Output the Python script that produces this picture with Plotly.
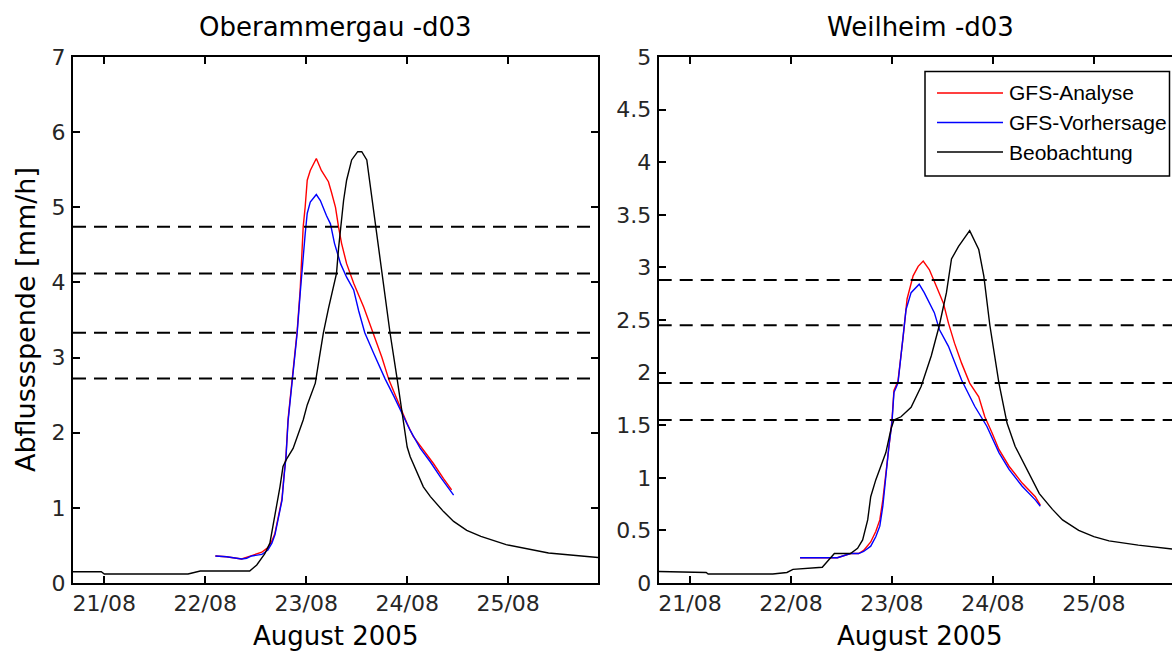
import plotly.graph_objects as go

W, H = 1172, 653

# ---- shared x axis (days of August 2005) ----
day_ticks = [21, 22, 23, 24, 25]
day_labels = ["21/08", "22/08", "23/08", "24/08", "25/08"]

# ---- Oberammergau -d03 ----
obe_obs_t = [20.69, 20.97, 21.00, 21.83, 21.95, 22.44, 22.51, 22.59, 22.64, 22.67, 22.71, 22.74,
             22.77, 22.81, 22.87, 22.92, 22.97, 23.01, 23.06, 23.09, 23.13, 23.17, 23.22, 23.28,
             23.30, 23.32, 23.34, 23.37, 23.40, 23.45, 23.51, 23.55, 23.60, 23.65, 23.70, 23.75,
             23.83, 23.90, 23.95, 23.98, 24.00, 24.03, 24.10, 24.16, 24.23, 24.36, 24.46, 24.59,
             24.73, 24.98, 25.40, 25.89]
obe_obs_q = [0.15, 0.15, 0.12, 0.12, 0.16, 0.16, 0.24, 0.39, 0.53, 0.75, 1.06, 1.28,
             1.55, 1.66, 1.79, 1.97, 2.17, 2.37, 2.57, 2.66, 3.00, 3.33, 3.65, 3.99,
             4.12, 4.45, 4.74, 5.09, 5.36, 5.63, 5.74, 5.74, 5.63, 5.14, 4.65, 4.12,
             3.33, 2.72, 2.26, 2.03, 1.81, 1.68, 1.46, 1.28, 1.15, 0.95, 0.82, 0.70,
             0.62, 0.51, 0.40, 0.34]

obe_ana_t = [22.10, 22.21, 22.36, 22.41, 22.46, 22.51, 22.56, 22.62, 22.66, 22.69, 22.72, 22.76,
             22.78, 22.80, 22.82, 22.86, 22.91, 22.94, 22.96, 22.97, 22.99, 23.01, 23.04, 23.10,
             23.15, 23.22, 23.25, 23.29, 23.32, 23.35, 23.40, 23.47, 23.57, 23.65, 23.75, 23.82,
             23.93, 24.00, 24.06, 24.16, 24.26, 24.36, 24.44]
obe_ana_q = [0.36, 0.35, 0.32, 0.34, 0.37, 0.39, 0.41, 0.47, 0.56, 0.66, 0.86, 1.12,
             1.43, 1.70, 2.18, 2.74, 3.35, 3.90, 4.40, 4.74, 5.01, 5.36, 5.49, 5.65,
             5.49, 5.34, 5.20, 5.00, 4.74, 4.52, 4.25, 3.99, 3.67, 3.38, 3.00, 2.70,
             2.34, 2.12, 1.95, 1.77, 1.59, 1.39, 1.24]

obe_fc_t = [22.10, 22.21, 22.36, 22.41, 22.46, 22.56, 22.62, 22.66, 22.69, 22.72, 22.76, 22.78,
            22.80, 22.82, 22.86, 22.91, 22.94, 22.97, 22.99, 23.01, 23.04, 23.10, 23.14, 23.20,
            23.24, 23.28, 23.34, 23.40, 23.47, 23.52, 23.58, 23.67, 23.78, 23.87, 23.96, 24.03,
            24.13, 24.23, 24.33, 24.46]
obe_fc_q = [0.36, 0.35, 0.32, 0.33, 0.36, 0.38, 0.44, 0.53, 0.64, 0.84, 1.10, 1.41,
            1.68, 2.15, 2.70, 3.32, 3.85, 4.38, 4.65, 4.92, 5.07, 5.17, 5.09, 4.89,
            4.78, 4.52, 4.25, 4.07, 3.90, 3.62, 3.33, 3.05, 2.72, 2.48, 2.23, 2.03,
            1.79, 1.61, 1.41, 1.17]

obe_thresholds = [2.72, 3.33, 4.12, 4.74]

# ---- Weilheim -d03 ----
wei_obs_t = [20.69, 21.16, 21.18, 21.82, 21.96, 22.02, 22.31, 22.43, 22.59, 22.66, 22.71, 22.76,
             22.79, 22.84, 22.89, 22.94, 22.99, 23.02, 23.09, 23.19, 23.29, 23.39, 23.47, 23.54,
             23.59, 23.66, 23.77, 23.86, 23.91, 23.94, 23.97, 24.06, 24.14, 24.22, 24.32, 24.46,
             24.59, 24.69, 24.85, 25.00, 25.15, 25.44, 25.89]
wei_obs_q = [0.11, 0.10, 0.086, 0.086, 0.10, 0.13, 0.15, 0.28, 0.28, 0.33, 0.41, 0.60,
             0.82, 0.98, 1.11, 1.24, 1.46, 1.55, 1.58, 1.67, 1.87, 2.16, 2.45, 2.76,
             3.08, 3.20, 3.35, 3.17, 2.92, 2.70, 2.45, 1.90, 1.52, 1.30, 1.11, 0.85,
             0.70, 0.60, 0.50, 0.44, 0.40, 0.36, 0.31]

wei_ana_t = [22.09, 22.46, 22.59, 22.67, 22.72, 22.79, 22.84, 22.88, 22.91, 22.94, 22.97, 23.00,
             23.02, 23.06, 23.11, 23.15, 23.21, 23.26, 23.31, 23.37, 23.44, 23.51, 23.56, 23.62,
             23.69, 23.77, 23.86, 23.92, 23.99, 24.06, 24.16, 24.29, 24.42, 24.47]
wei_ana_q = [0.24, 0.24, 0.28, 0.28, 0.31, 0.39, 0.49, 0.60, 0.79, 1.06, 1.32, 1.54,
             1.83, 1.92, 2.33, 2.70, 2.92, 3.01, 3.06, 2.98, 2.82, 2.66, 2.47, 2.28,
             2.09, 1.90, 1.77, 1.58, 1.43, 1.27, 1.11, 0.95, 0.82, 0.74]

wei_fc_t = [22.09, 22.46, 22.59, 22.67, 22.72, 22.79, 22.84, 22.88, 22.91, 22.94, 22.97, 23.00,
            23.02, 23.06, 23.11, 23.14, 23.19, 23.27, 23.32, 23.42, 23.47, 23.56, 23.69, 23.82,
            23.94, 24.06, 24.16, 24.29, 24.42, 24.47]
wei_fc_q = [0.24, 0.24, 0.28, 0.28, 0.30, 0.35, 0.44, 0.54, 0.73, 1.04, 1.30, 1.52,
            1.81, 1.90, 2.31, 2.60, 2.76, 2.84, 2.76, 2.57, 2.41, 2.25, 1.93, 1.68,
            1.49, 1.24, 1.08, 0.92, 0.79, 0.73]

wei_thresholds = [1.55, 1.90, 2.45, 2.88]

series_names = ["GFS-Analyse", "GFS-Vorhersage", "Beobachtung"]
series_colors = ["#ff0000", "#0000ff", "#000000"]

FONT = "DejaVu Sans"
LINE_W = 1.4


def px_x(p):
    return p / W


def px_y(p):
    return 1 - p / H


fig = go.Figure()

panels = [
    ("x", "y", obe_ana_t, obe_ana_q, obe_fc_t, obe_fc_q, obe_obs_t, obe_obs_q),
    ("x2", "y2", wei_ana_t, wei_ana_q, wei_fc_t, wei_fc_q, wei_obs_t, wei_obs_q),
]
for xa, ya, at, aq, ft, fq, ot, oq in panels:
    for (t, q), name, col in zip([(at, aq), (ft, fq), (ot, oq)], series_names, series_colors):
        fig.add_trace(go.Scatter(x=t, y=q, mode="lines", name=name, showlegend=False,
                                 line=dict(color=col, width=LINE_W), xaxis=xa, yaxis=ya,
                                 hoverinfo="skip"))

# warning thresholds as dashed horizontal lines across each panel
for xa, ya, levels in [("x", "y", obe_thresholds), ("x2", "y2", wei_thresholds)]:
    for lv in levels:
        fig.add_shape(type="line", xref=f"{xa} domain", yref=ya, x0=0, x1=1, y0=lv, y1=lv,
                      line=dict(color="black", width=2, dash="13px,8px"))

X_RANGE = [20.69, 25.89]
PX_PER_DAY = (598 - 73) / (X_RANGE[1] - X_RANGE[0])
x2_end = X_RANGE[0] + (W - 658.7) / PX_PER_DAY

y_dom = [px_y(583), px_y(57)]
tickfont = dict(family=FONT, size=22, color="#262626")
common_x = dict(tickmode="array", tickvals=day_ticks, ticktext=day_labels, ticks="inside",
                ticklen=7, tickwidth=1.5, tickcolor="black", showline=True, linecolor="black",
                linewidth=2, showgrid=False, zeroline=False, tickfont=tickfont,
                automargin=False, ticklabelstandoff=0)
common_y = dict(ticks="inside", ticklen=7, tickwidth=1.5, tickcolor="black", showline=True,
                linecolor="black", linewidth=2, showgrid=False, zeroline=False,
                tickfont=tickfont, automargin=False, ticklabelstandoff=1)

fig.update_layout(
    width=W, height=H,
    margin=dict(l=0, r=0, t=0, b=0),
    paper_bgcolor="white", plot_bgcolor="white",
    xaxis=dict(common_x, domain=[px_x(73), px_x(598)], range=X_RANGE, mirror="ticks", anchor="y"),
    yaxis=dict(common_y, domain=y_dom, range=[0, 7], tickvals=list(range(8)),
               ticktext=[str(v) for v in range(8)], mirror="ticks", anchor="x"),
    xaxis2=dict(common_x, domain=[px_x(658.7), 1.0], range=[X_RANGE[0], x2_end],
                mirror="ticks", anchor="y2"),
    yaxis2=dict(common_y, domain=y_dom, range=[0, 5],
                tickvals=[v / 2 for v in range(11)],
                ticktext=["0", "0.5", "1", "1.5", "2", "2.5", "3", "3.5", "4", "4.5", "5"],
                mirror=False, anchor="x2"),
    showlegend=False,
)

big = dict(family=FONT, size=26, color="black")
annotations = [
    dict(text="Oberammergau -d03", x=px_x(335.5), y=px_y(27)),
    dict(text="Weilheim -d03", x=px_x(920), y=px_y(27)),
    dict(text="August 2005", x=px_x(335), y=px_y(636)),
    dict(text="August 2005", x=px_x(919), y=px_y(636)),
]
for a in annotations:
    fig.add_annotation(xref="paper", yref="paper", xanchor="center", yanchor="middle",
                       showarrow=False, font=big, **a)
fig.add_annotation(text="Abflussspende [mm/h]", xref="paper", yref="paper", x=px_x(25),
                   y=px_y(320), textangle=-90, showarrow=False, xanchor="center",
                   yanchor="middle", font=dict(family=FONT, size=27, color="black"))

# legend box for the Weilheim panel
fig.add_shape(type="rect", xref="paper", yref="paper", x0=px_x(925), x1=px_x(1169.5),
              y0=px_y(176), y1=px_y(71.5), line=dict(color="black", width=1.5),
              fillcolor="white", layer="above")
for i, (name, col) in enumerate(zip(series_names, series_colors)):
    row = 93 + i * 29.5
    fig.add_shape(type="line", xref="paper", yref="paper", x0=px_x(937), x1=px_x(1003),
                  y0=px_y(row), y1=px_y(row), line=dict(color=col, width=LINE_W))
    fig.add_annotation(text=name, xref="paper", yref="paper", x=px_x(1007), y=px_y(row),
                       xanchor="left", yanchor="middle", showarrow=False,
                       font=dict(family="Liberation Sans", size=21, color="black"))

fig.write_html("out.html")
